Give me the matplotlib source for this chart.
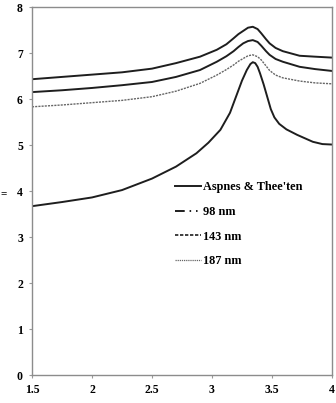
import matplotlib
matplotlib.use('Agg')
import matplotlib.pyplot as plt
from matplotlib.lines import Line2D

# photon energy (eV) and refractive index
x_film = [1.5, 1.75, 2.0, 2.25, 2.5, 2.7, 2.9, 3.04, 3.12, 3.18, 3.22, 3.26,
          3.30, 3.34, 3.38, 3.41, 3.45, 3.48, 3.53, 3.59, 3.73, 3.86, 4.0]
n_98 = [6.43, 6.48, 6.53, 6.58, 6.66, 6.78, 6.92, 7.07, 7.19, 7.32, 7.41,
        7.48, 7.55, 7.57, 7.52, 7.43, 7.30, 7.21, 7.11, 7.04, 6.94, 6.92, 6.90]
n_143 = [6.15, 6.19, 6.24, 6.30, 6.37, 6.48, 6.63, 6.81, 6.93, 7.04, 7.13,
         7.21, 7.26, 7.28, 7.24, 7.16, 7.04, 6.96, 6.87, 6.81, 6.70, 6.65, 6.61]
n_187 = [5.83, 5.87, 5.92, 5.97, 6.05, 6.17, 6.34, 6.52, 6.64, 6.74, 6.82,
         6.88, 6.94, 6.96, 6.92, 6.85, 6.72, 6.62, 6.52, 6.46, 6.39, 6.35, 6.33]

x_asp = [1.5, 1.75, 2.0, 2.25, 2.5, 2.7, 2.87, 2.97, 3.07, 3.15, 3.20, 3.25,
         3.29, 3.32, 3.34, 3.36, 3.38, 3.40, 3.43, 3.46, 3.49, 3.52, 3.56,
         3.62, 3.71, 3.84, 3.92, 4.0]
n_asp = [3.67, 3.76, 3.86, 4.02, 4.27, 4.53, 4.82, 5.05, 5.33, 5.70, 6.05,
         6.40, 6.63, 6.76, 6.80, 6.78, 6.70, 6.56, 6.32, 6.05, 5.78, 5.60,
         5.46, 5.34, 5.22, 5.07, 5.02, 5.01]

labels = ["Aspnes & Thee'ten", '98 nm', '143 nm', '187 nm']
xticks = [1.5, 2, 2.5, 3, 3.5, 4]
xticklabels = ['1.5', '2', '2.5', '3', '3.5', '4']
yticks = [0, 1, 2, 3, 4, 5, 6, 7, 8]

font = 'Liberation Serif'
lc = '#1e1e1e'

fig = plt.figure(figsize=(3.36, 4.03), dpi=100)
ax = fig.add_axes([32/336, 1 - 375/403, 300/336, 368/403])

ax.plot(x_asp, n_asp, color=lc, lw=1.4, solid_joinstyle='round')
ax.plot(x_film, n_98, color=lc, lw=1.4, solid_joinstyle='round')
ax.plot(x_film, n_143, color=lc, lw=1.4, solid_joinstyle='round')
ax.plot(x_film, n_187, color='#666666', lw=1.0, linestyle=(0, (1.5, 0.8)))

ax.set_xlim(1.5, 4)
ax.set_ylim(0, 8)
ax.set_xticks(xticks)
ax.set_xticklabels(xticklabels)
ax.set_yticks(yticks)
for lab in ax.get_xticklabels() + ax.get_yticklabels():
    lab.set_fontfamily(font)
    lab.set_fontweight('bold')
    lab.set_fontsize(8.5)
ax.tick_params(axis='both', direction='out', length=2.5, width=0.8,
               color='#999999', pad=4)
for s in ax.spines.values():
    s.set_color('#8c8c8c')
    s.set_linewidth(1.0)

# axis label is clipped by the bottom edge, as in the source image
ax.set_xlabel('E(eV)', fontfamily=font, fontweight='bold', fontsize=9,
              labelpad=5)
fig.text(0.012, 1 - 194/403, '=', fontfamily=font, fontweight='bold',
         fontsize=8, ha='center', va='center')

# legend handles drawn with the styles shown in the key
handles = [
    Line2D([], [], color=lc, lw=1.4),
    Line2D([], [], color=lc, lw=1.4, linestyle=(0, (5, 2.5, 0.8, 2.5, 0.8, 2.5))),
    Line2D([], [], color=lc, lw=1.2, linestyle=(0, (2, 1))),
    Line2D([], [], color='#666666', lw=0.9, linestyle=(0, (1, 0.7))),
]
ax.legend(handles, labels, loc='upper left',
          bbox_to_anchor=(143/300, (375 - 181)/368), frameon=False,
          handlelength=2.1, handletextpad=0.2, labelspacing=1.05,
          borderpad=0, borderaxespad=0,
          prop={'family': font, 'weight': 'bold', 'size': 8.8})

fig.savefig('out.png', dpi=100)
